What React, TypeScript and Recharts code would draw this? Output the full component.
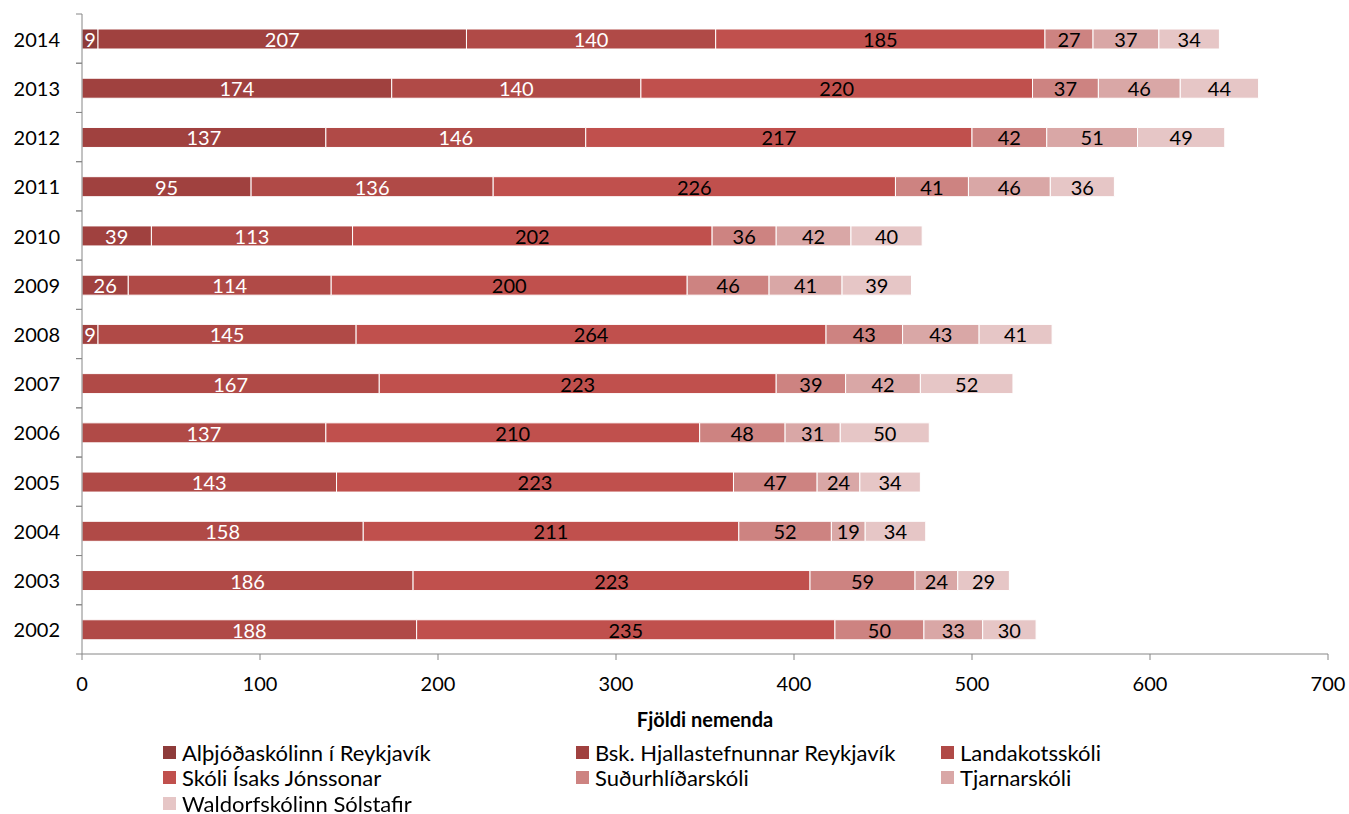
import React from 'react'
import { BarChart, Bar, XAxis, YAxis, LabelList } from 'recharts'

const years = ['2002', '2003', '2004', '2005', '2006', '2007', '2008', '2009', '2010', '2011', '2012', '2013', '2014']

const althjoda = [null, null, null, null, null, null, null, null, null, null, null, null, 9]
const hjalli = [null, null, null, null, null, null, 9, 26, 39, 95, 137, 174, 207]
const landakot = [188, 186, 158, 143, 137, 167, 145, 114, 113, 136, 146, 140, 140]
const isak = [235, 223, 211, 223, 210, 223, 264, 200, 202, 226, 217, 220, 185]
const sudurhlid = [50, 59, 52, 47, 48, 39, 43, 46, 36, 41, 42, 37, 27]
const tjarnar = [33, 24, 19, 24, 31, 42, 43, 41, 42, 46, 51, 46, 37]
const waldorf = [30, 29, 34, 34, 50, 52, 41, 39, 40, 36, 49, 44, 34]

const xTicks = [0, 100, 200, 300, 400, 500, 600, 700]

const series = [
  { key: 'althjoda', name: 'Alþjóðaskólinn í Reykjavík', values: althjoda, color: '#8E3B3A', label: '#fff' },
  { key: 'hjalli', name: 'Bsk. Hjallastefnunnar Reykjavík', values: hjalli, color: '#A0413F', label: '#fff' },
  { key: 'landakot', name: 'Landakotsskóli', values: landakot, color: '#B04A47', label: '#fff' },
  { key: 'isak', name: 'Skóli Ísaks Jónssonar', values: isak, color: '#C0504D', label: '#000' },
  { key: 'sudurhlid', name: 'Suðurhlíðarskóli', values: sudurhlid, color: '#CD8381', label: '#000' },
  { key: 'tjarnar', name: 'Tjarnarskóli', values: tjarnar, color: '#D9A7A6', label: '#000' },
  { key: 'waldorf', name: 'Waldorfskólinn Sólstafir', values: waldorf, color: '#E6C6C6', label: '#000' }
]

const data = years.map((year, i) => {
  const row: any = { year }
  series.forEach(s => { row[s.key] = s.values[i] })
  return row
})

const AXIS = '#868686'
const W = 1349
const H = 743
const PLOT_H = 640
const BAND = PLOT_H / years.length

// year labels plus the small ticks that sit between categories
function YearTick(props: any) {
  const { x, y, payload } = props
  const half = payload && payload.offset ? payload.offset : BAND / 2
  const axisX = x + 22
  return (
    <g>
      <text x={x} y={y} textAnchor="end" dominantBaseline="central" fontSize={20} fill="#000">
        {payload.value}
      </text>
      <line x1={axisX - 6} x2={axisX} y1={y - half} y2={y - half} stroke={AXIS} />
      <line x1={axisX - 6} x2={axisX} y1={y + half} y2={y + half} stroke={AXIS} />
    </g>
  )
}

function segLabel(color: string) {
  return (props: any) => {
    const { x, y, width, height, value } = props
    if (value === null || value === undefined || value === 0) return null
    return (
      <text x={x + width / 2} y={y + height / 2} textAnchor="middle" dominantBaseline="central" fontSize={20} fill={color}>
        {value}
      </text>
    )
  }
}

const legendCols = [163, 576, 941]
const legendRows = [752, 777, 803]

export default function App() {
  return (
    <div style={{ position: 'fixed', left: 0, top: 0, width: W, height: 814, fontFamily: 'Lato, sans-serif', background: '#fff' }}>
      <BarChart
        width={W}
        height={H}
        data={data}
        layout="vertical"
        margin={{ top: 14, right: 21, bottom: 0, left: 0 }}
      >
        <XAxis
          type="number"
          domain={[0, 700]}
          ticks={xTicks}
          interval={0}
          height={89}
          tickSize={6}
          tickMargin={17}
          stroke={AXIS}
          tick={{ fill: '#000', fontSize: 20 }}
          label={{ value: 'Fjöldi nemenda', position: 'insideBottom', offset: 16, fill: '#000', fontSize: 20, fontWeight: 'bold' }}
        />
        <YAxis
          type="category"
          dataKey="year"
          reversed
          width={82}
          tickSize={6}
          tickMargin={16}
          tickLine={false}
          stroke={AXIS}
          interval={0}
          tick={<YearTick />}
        />
        {series.map(s => (
          <Bar
            key={s.key}
            dataKey={s.key}
            name={s.name}
            stackId="a"
            fill={s.color}
            stroke="#fff"
            strokeWidth={1}
            barSize={20}
            isAnimationActive={false}
          >
            <LabelList dataKey={s.key} content={segLabel(s.label)} />
          </Bar>
        ))}
      </BarChart>

      {series.map((s, i) => (
        <div
          key={s.key}
          style={{
            position: 'absolute',
            left: legendCols[i % 3],
            top: legendRows[Math.floor(i / 3)] - 12,
            height: 24,
            display: 'flex',
            alignItems: 'center',
            fontSize: 22,
            color: '#000',
            whiteSpace: 'nowrap'
          }}
        >
          <span style={{ display: 'inline-block', width: 13, height: 13, background: s.color, marginRight: 6 }} />
          {s.name}
        </div>
      ))}
    </div>
  )
}
